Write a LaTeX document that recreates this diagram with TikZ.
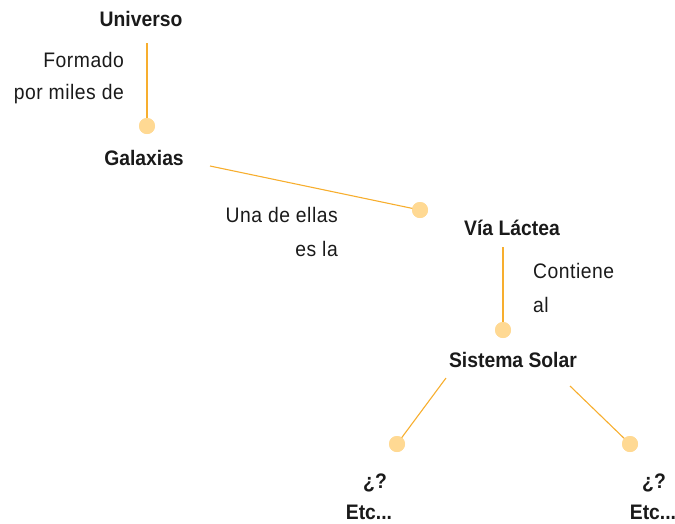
\documentclass[tikz,border=0pt]{standalone}
\usepackage{fontspec}
\setmainfont{Liberation Sans}[FakeStretch=0.92]
\newfontfamily\lblfont{Liberation Sans}[FakeStretch=0.92,LetterSpace=2.5]
\definecolor{lineor}{HTML}{F7AE2E}
\definecolor{dotor}{HTML}{FFD993}
\definecolor{txt}{HTML}{1A1A1A}
\begin{document}
\begin{tikzpicture}[x=1pt,y=-1pt,
  concept/.style={font=\fontsize{21}{24}\selectfont\bfseries, text=txt, inner sep=0pt, anchor=center},
  lbl/.style={font=\lblfont\fontsize{21}{24}\selectfont, text=txt, inner sep=0pt},
  conn/.style={draw=lineor, line width=1.1pt},
  dot/.style={circle, fill=dotor, minimum size=16pt, inner sep=0pt}]
\useasboundingbox (0,0) rectangle (675,523);
% concepts
\node[concept] (uni) at (141,19) {Universo};
\node[concept] (gal) at (144,158) {Galaxias};
\node[concept] (via) at (512,228) {Vía Láctea};
\node[concept] (sol) at (513,360) {Sistema Solar};
\node[concept] (q1) at (375,483) {¿?};
\node[concept] (e1) at (369,512) {Etc...};
\node[concept] (q2) at (654,483) {¿?};
\node[concept] (e2) at (653,512) {Etc...};
% anchors for connectors
\coordinate (c1a) at (147,43);
\coordinate (c2a) at (210,166);
\coordinate (c3a) at (503,247);
\coordinate (c4a) at (446,378);
\coordinate (c5a) at (570,386);
\node[dot] (d1) at (147,126) {};
\node[dot] (d2) at (420,210) {};
\node[dot] (d3) at (503,330) {};
\node[dot] (d4) at (397,444) {};
\node[dot] (d5) at (630,444) {};
\draw[conn] (c1a) -- (d1.center);
\draw[conn] (c2a) -- (d2.center);
\draw[conn] (c3a) -- (d3.center);
\draw[conn] (c4a) -- (d4.center);
\draw[conn] (c5a) -- (d5.center);
\foreach \d in {d1,d2,d3,d4,d5} \node[dot] at (\d) {};
% labels
\node[lbl, anchor=east] (l1a) at (124,60) {Formado};
\node[lbl, anchor=east] (l1b) at (124,94) {por miles de};
\node[lbl, anchor=east] (l2a) at (338,215) {Una de ellas};
\node[lbl, anchor=east] (l2b) at (338,249) {es la};
\node[lbl, anchor=west] (l3a) at (533,271) {Contiene};
\node[lbl, anchor=west] (l3b) at (533,305) {al};
\end{tikzpicture}
\end{document}
